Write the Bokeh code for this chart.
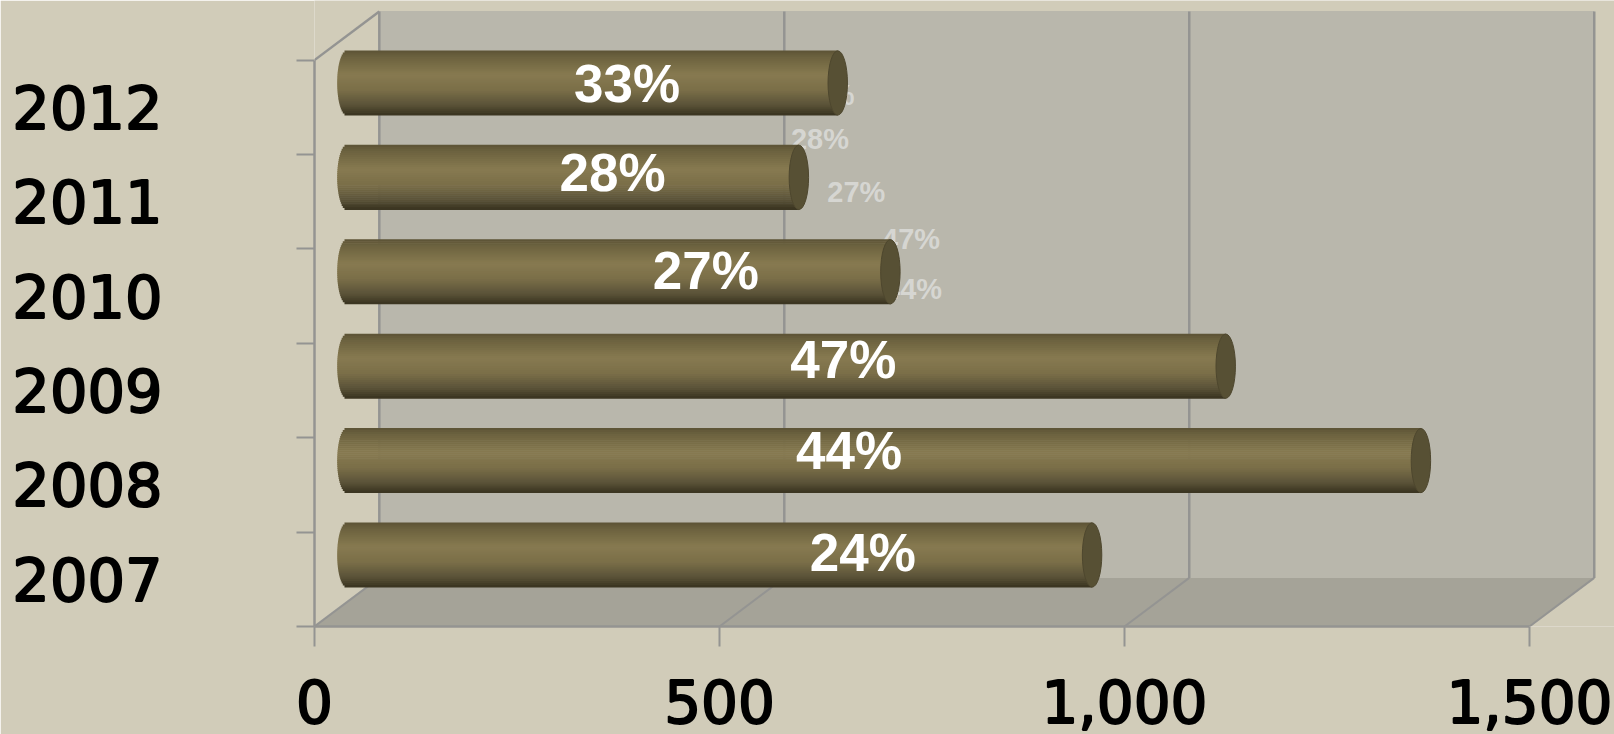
import math
from bokeh.plotting import figure, ColumnDataSource
from bokeh.models import Range1d, FixedTicker, NumeralTickFormatter, LinearAxis
from bokeh.core.properties import value
from bokeh.embed import file_html
from bokeh.resources import INLINE

years = ["2007", "2008", "2009", "2010", "2011", "2012"]
amounts = [920, 1326, 1085, 671, 558, 606]
percent = ["24%", "44%", "47%", "27%", "28%", "33%"]
label_x = [677, 660, 653, 483, 368, 386]
label_y = [0.785, 1.864, 2.824, 3.773, 4.809, 5.747]
ghost_x = [746.5, 739, 736.5, 669, 624, 631]
ghost_y = [2.977, 3.58, 4.1, 4.603, 5.159, 5.628]
x_ticks = [0, 500, 1000, 1500]
y_edges = [0, 1, 2, 3, 4, 5, 6]

BG = "#d1ccb9"
WALL = "#b9b7ac"
FLOOR = "#a5a398"
GRID = "#949492"
DX, DY = 80, 0.515
BAR_H, CAP_A = 0.683, 12
stops = [(0, "#5c5336"), (0.1, "#6c623f"), (0.38, "#877a50"), (0.62, "#7a6e48"),
         (0.85, "#5a5238"), (1, "#38331f")]


def shade(t):
    for (a, ca), (b, cb) in zip(stops, stops[1:]):
        if t <= b:
            f = (t - a) / (b - a)
            rgb = [round(int(ca[i:i+2], 16) * (1 - f) + int(cb[i:i+2], 16) * f) for i in (1, 3, 5)]
            return "#%02x%02x%02x" % tuple(rgb)
    return stops[-1][1]


p = figure(width=1614, height=734, output_backend="svg", toolbar_location=None,
           x_range=Range1d(0, 1605), y_range=Range1d(0, 6.631),
           min_border_left=314, min_border_right=0, min_border_top=0, min_border_bottom=108,
           background_fill_color=BG, background_fill_alpha=1,
           border_fill_color=BG, border_fill_alpha=1, outline_line_color=None,
           x_axis_location=None, y_axis_location=None)
p.grid.visible = False

# back wall and floor
p.quad(left=[DX], right=[x_ticks[-1] + DX], bottom=[DY], top=[y_edges[-1] + DY + 0.005],
       fill_color=WALL, fill_alpha=1, line_color=None)
p.patch([0, DX, x_ticks[-1] + DX, x_ticks[-1]], [0, DY, DY, 0], fill_color=FLOOR, fill_alpha=1,
        line_color=None)
p.segment(x0=[t + DX for t in x_ticks], x1=[t + DX for t in x_ticks], y0=[DY] * 4,
          y1=[y_edges[-1] + DY] * 4, line_color=GRID, line_width=2.5)
p.segment(x0=x_ticks, x1=[t + DX for t in x_ticks], y0=[0] * 4, y1=[DY] * 4,
          line_color=GRID, line_width=2)
p.segment(x0=[0], x1=[DX], y0=[y_edges[-1]], y1=[y_edges[-1] + DY], line_color=GRID, line_width=2.5)

# ghost labels behind the bars
p.text(x=ghost_x, y=ghost_y, text=percent, text_color="#d6d6d2", text_align="center",
       text_baseline="middle", text_font=value("Liberation Sans"), text_font_style="bold",
       text_font_size="29px")

# cylinders
N = 32
ys, lefts, rights, cols = [], [], [], []
for i, v in enumerate(amounts):
    centre = i + 0.5 + DY / 2
    for k in range(N):
        t = (k + 0.5) / N
        yy = centre + BAR_H / 2 - t * BAR_H
        u = 2 * t - 1
        ys.append(yy)
        lefts.append(DX / 2 - CAP_A * math.sqrt(max(0, 1 - u * u)))
        rights.append(DX / 2 + v)
        cols.append(shade(t))
p.hbar(y="y", left="l", right="r", height=BAR_H / N * 1.3, fill_color="c", fill_alpha=1,
       line_color=None, source=ColumnDataSource(dict(y=ys, l=lefts, r=rights, c=cols)))
p.ellipse(x=[DX / 2 + v for v in amounts], y=[i + 0.5 + DY / 2 for i in range(len(amounts))],
          width=CAP_A * 2, height=BAR_H, fill_color="#575034", fill_alpha=1,
          line_color="#4e472e", line_width=1)

# percentage labels
p.text(x=label_x, y=label_y, text=percent, text_color="#ffffff", text_align="center",
       text_baseline="middle", text_font=value("Liberation Sans"), text_font_style="bold",
       text_font_size="53px")

# axes
xa = LinearAxis(ticker=FixedTicker(ticks=x_ticks), formatter=NumeralTickFormatter(format="0,0"))
xa.bounds = (0, 1500)
xa.axis_line_color = GRID
xa.axis_line_width = 2.5
xa.major_tick_line_color = GRID
xa.major_tick_line_width = 2
xa.major_tick_in = 0
xa.major_tick_out = 20
xa.minor_tick_line_color = None
xa.major_label_standoff = 33
xa.major_label_text_font = "DejaVu Sans"
xa.major_label_text_font_size = "58px"
xa.major_label_text_color = "#000000"
xa.major_label_text_outline_color = "#000000"
p.add_layout(xa, "below")

centres = [i + 0.5 for i in range(len(years))]
ya = LinearAxis(ticker=FixedTicker(ticks=centres, minor_ticks=y_edges))
ya.bounds = (0, 6)
ya.major_label_overrides = {c: y for c, y in zip(centres, years)}
ya.axis_line_color = GRID
ya.axis_line_width = 2.5
ya.major_tick_line_color = None
ya.major_tick_in = 0
ya.major_tick_out = 0
ya.minor_tick_line_color = GRID
ya.minor_tick_line_width = 2
ya.minor_tick_in = 0
ya.minor_tick_out = 18
ya.major_label_standoff = 134
ya.major_label_text_font = "DejaVu Sans"
ya.major_label_text_font_size = "59px"
ya.major_label_text_color = "#000000"
ya.major_label_text_outline_color = "#000000"
ya.major_label_text_baseline = "middle"
p.add_layout(ya, "left")

open("out.html", "w").write(file_html(p, INLINE))
